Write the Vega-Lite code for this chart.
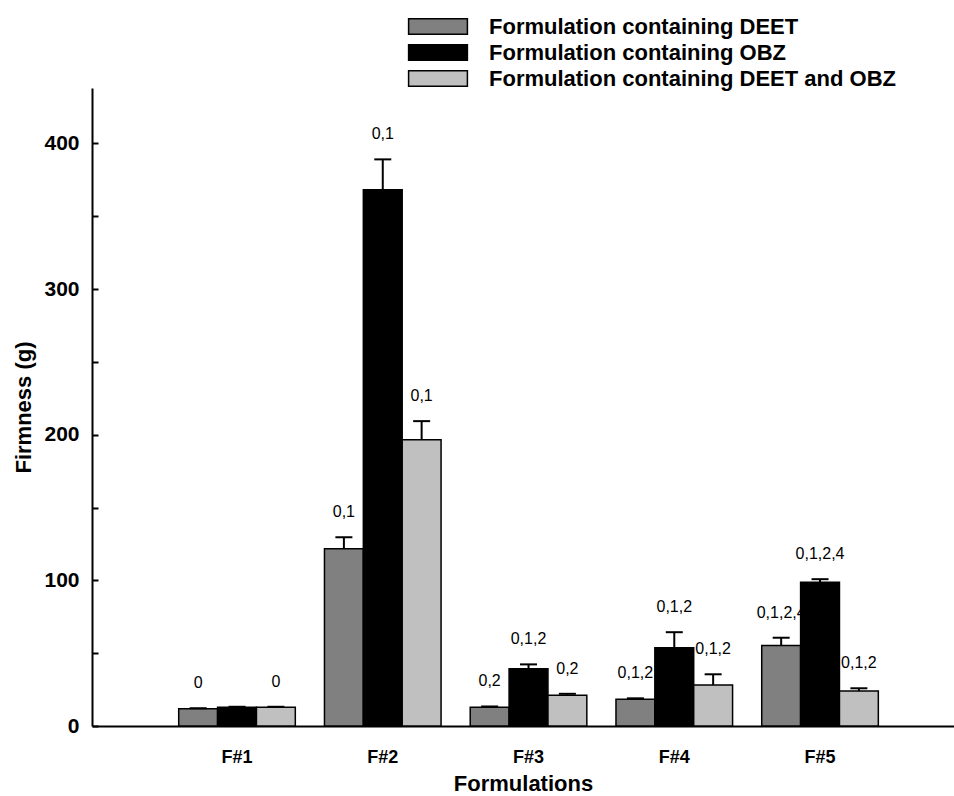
{
  "$schema": "https://vega.github.io/schema/vega-lite/v6.json",
  "width": 862,
  "height": 638,
  "autosize": {"type": "none"},
  "padding": {"left": 92, "top": 88, "right": 0, "bottom": 70},
  "background": "white",
  "config": {
    "font": "Liberation Sans",
    "view": {"stroke": null},
    "axis": {"domainColor": "black", "labelColor": "black", "titleColor": "black", "grid": false}
  },
  "data": {
    "values": [
      {"formulation": "F#1", "series": "Formulation containing DEET", "value": 11.8, "upper": 12.2, "label": "0"},
      {"formulation": "F#1", "series": "Formulation containing OBZ", "value": 12.9, "upper": 13.2, "label": ""},
      {"formulation": "F#1", "series": "Formulation containing DEET and OBZ", "value": 12.9, "upper": 13.2, "label": "0"},
      {"formulation": "F#2", "series": "Formulation containing DEET", "value": 121.7, "upper": 129.6, "label": "0,1"},
      {"formulation": "F#2", "series": "Formulation containing OBZ", "value": 368.1, "upper": 389.0, "label": "0,1"},
      {"formulation": "F#2", "series": "Formulation containing DEET and OBZ", "value": 196.5, "upper": 209.3, "label": "0,1"},
      {"formulation": "F#3", "series": "Formulation containing DEET", "value": 12.9, "upper": 13.4, "label": "0,2"},
      {"formulation": "F#3", "series": "Formulation containing OBZ", "value": 39.3, "upper": 42.3, "label": "0,1,2"},
      {"formulation": "F#3", "series": "Formulation containing DEET and OBZ", "value": 21.1, "upper": 22.1, "label": "0,2"},
      {"formulation": "F#4", "series": "Formulation containing DEET", "value": 18.3, "upper": 19.0, "label": "0,1,2"},
      {"formulation": "F#4", "series": "Formulation containing OBZ", "value": 53.7, "upper": 64.4, "label": "0,1,2"},
      {"formulation": "F#4", "series": "Formulation containing DEET and OBZ", "value": 28.2, "upper": 35.5, "label": "0,1,2"},
      {"formulation": "F#5", "series": "Formulation containing DEET", "value": 55.3, "upper": 60.6, "label": "0,1,2,4"},
      {"formulation": "F#5", "series": "Formulation containing OBZ", "value": 98.7, "upper": 100.8, "label": "0,1,2,4"},
      {"formulation": "F#5", "series": "Formulation containing DEET and OBZ", "value": 24.0, "upper": 25.9, "label": "0,1,2"}
    ]
  },
  "encoding": {
    "x": {
      "field": "formulation",
      "type": "nominal",
      "sort": ["F#1", "F#2", "F#3", "F#4", "F#5"],
      "scale": {"paddingInner": 0.2, "paddingOuter": 0.557, "align": 0.534},
      "axis": {
        "title": "Formulations",
        "labelAngle": 0,
        "ticks": false,
        "domainWidth": 2,
        "labelFontSize": 18,
        "labelFontWeight": "bold",
        "labelPadding": 22,
        "titleFontSize": 22,
        "titleFontWeight": "bold",
        "titlePadding": 7
      }
    },
    "xOffset": {
      "field": "series",
      "type": "nominal",
      "sort": ["Formulation containing DEET", "Formulation containing OBZ", "Formulation containing DEET and OBZ"],
      "scale": {"paddingInner": 0, "paddingOuter": 0}
    }
  },
  "layer": [
    {
      "mark": {"type": "bar", "stroke": "black", "strokeWidth": 1.5, "opacity": 1},
      "encoding": {
        "y": {
          "field": "value",
          "type": "quantitative",
          "scale": {"domain": [0, 438], "nice": false, "zero": true},
          "axis": {
            "title": "Firmness (g)",
            "values": [0, 50, 100, 150, 200, 250, 300, 350, 400],
            "labelExpr": "datum.value % 100 === 0 ? datum.label : ''",
            "tickSize": -6,
            "tickWidth": 2,
            "tickColor": "black",
            "domainWidth": 2,
            "labelFontSize": 21,
            "labelFontWeight": "bold",
            "labelPadding": 19,
            "titleFontSize": 22,
            "titleFontWeight": "bold",
            "titlePadding": 8
          }
        },
        "color": {
          "field": "series",
          "type": "nominal",
          "scale": {
            "domain": ["Formulation containing DEET", "Formulation containing OBZ", "Formulation containing DEET and OBZ"],
            "range": ["#808080", "#000000", "#c0c0c0"]
          },
          "legend": {
            "orient": "none",
            "legendX": 331,
            "legendY": -76.5,
            "title": null,
            "padding": 0,
            "symbolType": "M-2.1,-0.55H2.1V0.55H-2.1Z",
            "symbolSize": 784,
            "symbolStrokeColor": "black",
            "symbolStrokeWidth": 1.5,
            "symbolOpacity": 1,
            "labelFontSize": 22,
            "labelFontWeight": "bold",
            "labelColor": "black",
            "labelOffset": 36,
            "labelLimit": 600,
            "rowPadding": -1
          }
        }
      }
    },
    {
      "mark": {"type": "rule", "color": "black", "strokeWidth": 2},
      "encoding": {
        "y": {"field": "value", "type": "quantitative"},
        "y2": {"field": "upper"}
      }
    },
    {
      "mark": {"type": "tick", "orient": "horizontal", "color": "black", "thickness": 2, "size": 17, "opacity": 1},
      "encoding": {
        "y": {"field": "upper", "type": "quantitative"}
      }
    },
    {
      "mark": {"type": "text", "dy": -25, "fontSize": 16, "baseline": "middle", "align": "center", "color": "black"},
      "encoding": {
        "y": {"field": "upper", "type": "quantitative"},
        "text": {"field": "label"}
      }
    }
  ]
}
